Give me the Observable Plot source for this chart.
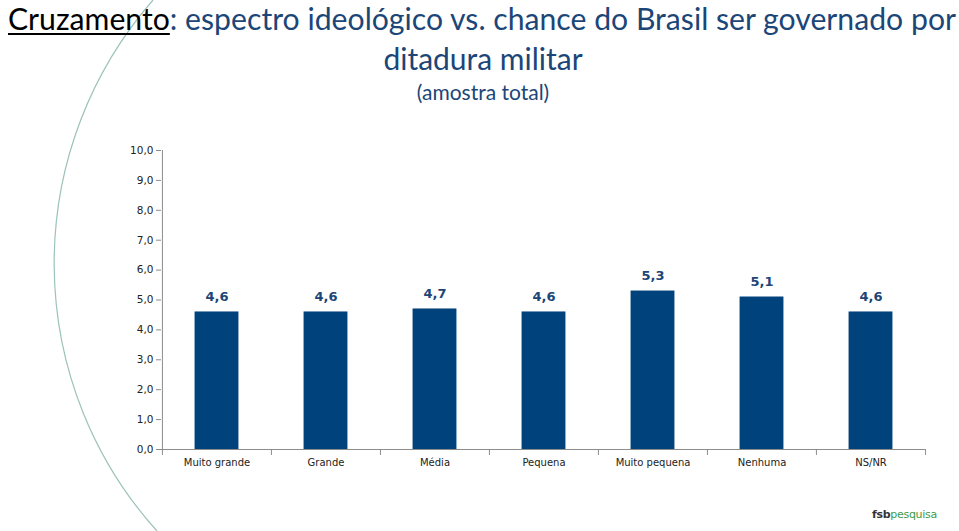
<!DOCTYPE html>
<html>
<head>
<meta charset="utf-8">
<script src="https://cdn.jsdelivr.net/npm/d3@7"></script>
<script src="https://cdn.jsdelivr.net/npm/@observablehq/plot@0.6"></script>
<style>
  html, body { margin: 0; padding: 0; background: #fff; }
  #page { position: relative; width: 959px; height: 531px; overflow: hidden; font-family: Lato, "Open Sans", sans-serif; }
  #deco { position: absolute; left: 0; top: 0; }
  #chart { position: absolute; left: 0; top: 0; }
  .t1 { position: absolute; left: 8px; top: 0px; font-size: 30px; color: #1b4677; white-space: nowrap; line-height: 36px; transform-origin: 0 0; }
  .t1 u { color: #000; text-decoration-thickness: 2px; text-underline-offset: 3px; }
  .t2 { position: absolute; left: 0; width: 966px; top: 40px; text-align: center; font-size: 30px; color: #1b4677; line-height: 36px; }
  .t3 { position: absolute; left: 0; width: 966px; top: 79px; text-align: center; font-size: 21px; color: #1b4677; line-height: 26px; }
  .logo { position: absolute; left: 872px; top: 508px; font-family: "DejaVu Sans", sans-serif; font-size: 11px; letter-spacing: -0.3px; }
  .logo b { color: #333; }
  .logo span { color: #3f9a4a; }
</style>
</head>
<body>
<div id="page">
  <svg id="deco" width="959" height="531"><path d="M153,0 A400,400 0 0 0 157,531" fill="none" stroke="#9cc2bb" stroke-width="1.2"/></svg>
  <div id="chart"></div>
  <div class="t1" id="t1"><u>Cruzamento</u>: espectro ideológico vs. chance do Brasil ser governado por</div>
  <div class="t2">ditadura militar</div>
  <div class="t3">(amostra total)</div>
  <div class="logo"><b>fsb</b><span>pesquisa</span></div>
</div>
<script>
const categories = ["Muito grande", "Grande", "Média", "Pequena", "Muito pequena", "Nenhuma", "NS/NR"];
const values = [4.6, 4.6, 4.7, 4.6, 5.3, 5.1, 4.6];
const yTicks = [0, 1, 2, 3, 4, 5, 6, 7, 8, 9, 10];

const data = categories.map((c, i) => ({category: c, value: values[i]}));
const fmt = v => v.toFixed(1).replace(".", ",");

const W = 959, H = 531;
const mL = 161, mR = 34, mT = 150, mB = 82;
const bw = (W - mL - mR) / categories.length;
const tickFont = "DejaVu Sans, Verdana, sans-serif";

const chart = Plot.plot({
  width: W,
  height: H,
  marginLeft: mL,
  marginRight: mR,
  marginTop: mT,
  marginBottom: mB,
  style: {background: "transparent", fontFamily: tickFont, overflow: "visible"},
  x: {type: "band", domain: categories, padding: 0, axis: null},
  y: {domain: [0, 10], axis: null},
  marks: [
    Plot.barY(data, {x: "category", y: "value", fill: "#00427c", insetLeft: (bw - 44) / 2, insetRight: (bw - 44) / 2}),
    Plot.ruleX([categories[0]], {dx: -bw / 2, y1: 0, y2: 10, stroke: "#8c8c8c"}),
    Plot.ruleY([0], {stroke: "#8c8c8c"}),
    Plot.axisY({ticks: yTicks, tickFormat: fmt, tickSize: 5, tickPadding: 3, stroke: "#8c8c8c", color: "#222", fontSize: 10.5, label: null}),
    Plot.axisX({ticks: categories, tickSize: 6, dx: -bw / 2, text: null, stroke: "#8c8c8c", label: null}),
    Plot.axisX({ticks: [categories[categories.length - 1]], tickSize: 6, dx: bw / 2, text: null, stroke: "#8c8c8c", label: null}),
    Plot.axisX({ticks: categories, tickSize: 0, tickPadding: 9, fontSize: 10, color: "#222", label: null}),
    Plot.text(data, {x: "category", y: "value", text: d => fmt(d.value), dy: -15, fill: "#1b4677", fontWeight: "bold", fontSize: 13})
  ]
});
document.getElementById("chart").appendChild(chart);

const t1 = document.getElementById("t1");
const w = t1.getBoundingClientRect().width;
t1.style.transform = `scaleX(${948 / w})`;
</script>
</body>
</html>
